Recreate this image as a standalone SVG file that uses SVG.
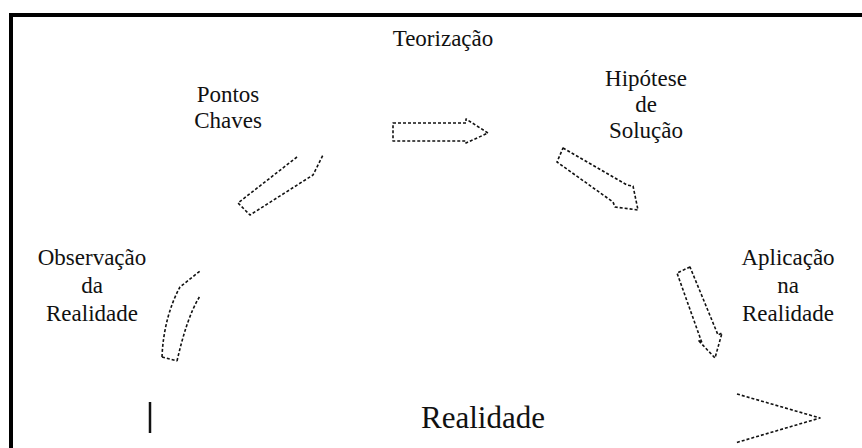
<svg xmlns="http://www.w3.org/2000/svg" width="862" height="448" viewBox="0 0 862 448">
  <style>
    .lbl { font-family: "Liberation Serif", "Times New Roman", serif; font-size: 23px; fill: #111; text-anchor: middle; }
    .big { font-size: 31px; }
    .arr { fill: none; stroke: #111; stroke-width: 1.6; stroke-dasharray: 3 2; stroke-linejoin: round; }
    .frame { stroke: #000; stroke-width: 4; fill: none; }
  </style>
  <rect width="862" height="448" fill="#fff"/>
  <g id="frame">
    <line class="frame" x1="9" y1="15" x2="862" y2="15"/>
    <line class="frame" x1="11" y1="13" x2="11" y2="448"/>
  </g>
  <g id="teorizacao">
    <text class="lbl" x="443" y="46">Teorização</text>
  </g>
  <g id="pontos-chaves">
    <text class="lbl" x="228" y="102">Pontos</text>
    <text class="lbl" x="228" y="128">Chaves</text>
  </g>
  <g id="hipotese">
    <text class="lbl" x="646" y="86">Hipótese</text>
    <text class="lbl" x="646" y="112">de</text>
    <text class="lbl" x="646" y="138">Solução</text>
  </g>
  <g id="observacao">
    <text class="lbl" x="92" y="265">Observação</text>
    <text class="lbl" x="92" y="293">da</text>
    <text class="lbl" x="92" y="321">Realidade</text>
  </g>
  <g id="aplicacao">
    <text class="lbl" x="788" y="265">Aplicação</text>
    <text class="lbl" x="788" y="293">na</text>
    <text class="lbl" x="788" y="321">Realidade</text>
  </g>
  <g id="realidade">
    <text class="lbl big" x="483" y="428">Realidade</text>
    <line x1="150" y1="402" x2="150" y2="433" stroke="#111" stroke-width="2.5"/>
  </g>
  <g id="connectors">
    <path class="arr" d="M162,357 L177,361 M162,357 C163,330 170,305 180,287 L200,271 M177,361 C183,335 190,312 200,296"/>
    <path class="arr" d="M297,157 L238,203 L250,215 L313,175 L323,155"/>
    <path class="arr" d="M393,123 L466,123 L466,119 L488,133 L466,143 L466,141 L393,141 Z"/>
    <path class="arr" d="M563,148 L627,185 L633,186 L638,210 L615,207 L613,202 L557,162 Z"/>
    <path class="arr" d="M690,267 L677,273 L702,343 L698,340 L715,358 L722,333 L718,335 Z"/>
    <path class="arr" d="M737,394 L820,418 L735,443"/>
  </g>
</svg>
